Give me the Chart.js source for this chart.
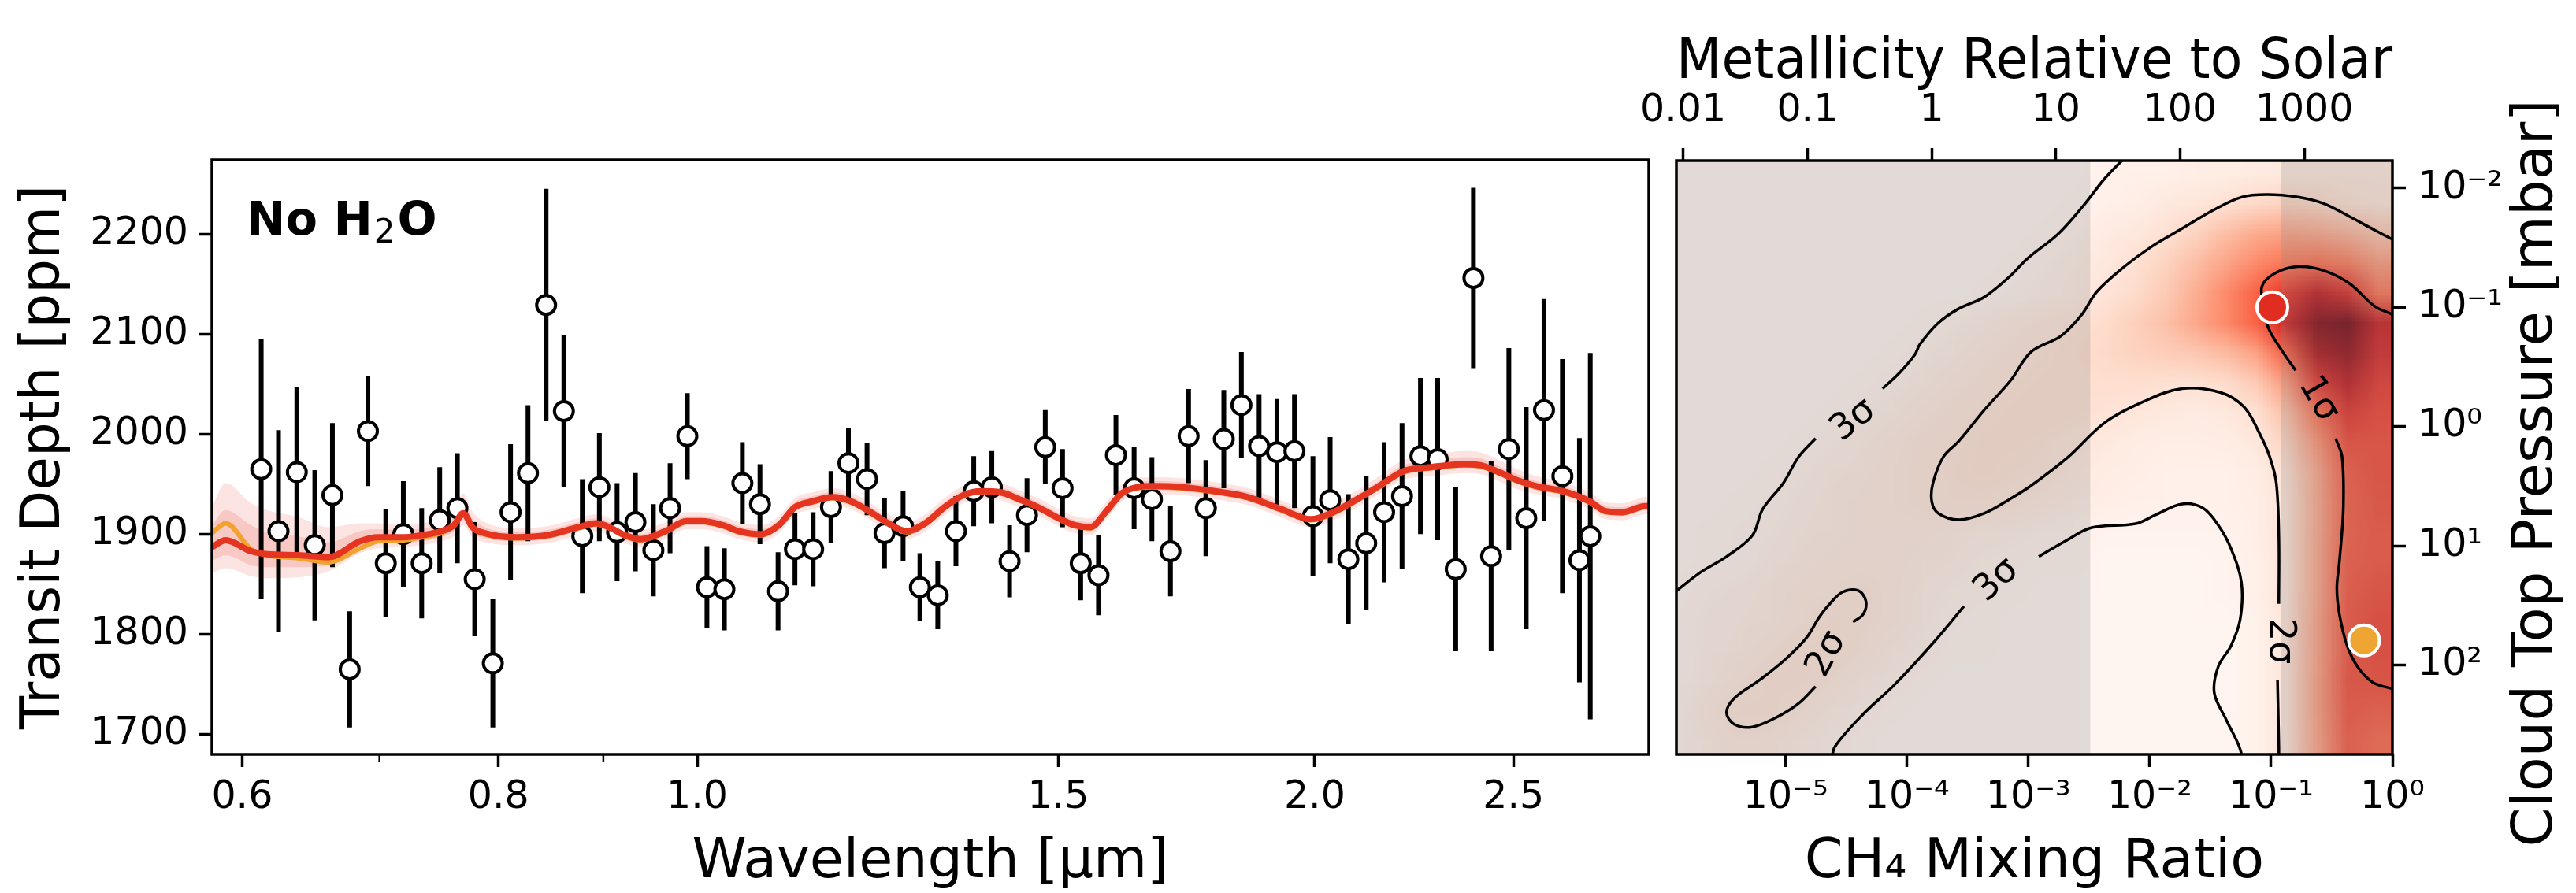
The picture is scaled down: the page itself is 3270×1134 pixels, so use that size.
<!DOCTYPE html>
<html>
<head>
<meta charset="utf-8">
<script src="https://cdn.jsdelivr.net/npm/chart.js@4.4.1/dist/chart.umd.min.js"></script>
<style>
  html, body { margin: 0; padding: 0; background: #fff; }
  #wrap { position: relative; width: 3270px; height: 1134px; overflow: hidden; background: #fff; }
  #spec { position: absolute; left: 0; top: 0; width: 2110px; height: 1134px; }
  #post { position: absolute; left: 2060px; top: 0; width: 1210px; height: 1134px; }
</style>
</head>
<body>
<div id="wrap">
  <canvas id="spec" width="2110" height="1134"></canvas>
  <canvas id="post" width="1210" height="1134"></canvas>
</div>
<script>
// ---------------- transmission spectrum ----------------
const dataWave = [0.613,0.625,0.638,0.651,0.664,0.677,0.691,0.705,0.719,0.734,
  0.749,0.764,0.779,0.795,0.811,0.827,0.844,0.861,0.879,0.896,
  0.914,0.933,0.952,0.970,0.989,1.011,1.031,1.052,1.073,1.095,
  1.116,1.139,1.162,1.185,1.210,1.234,1.260,1.284,1.310,1.337,
  1.364,1.392,1.420,1.448,1.478,1.507,1.538,1.569,1.600,1.633,
  1.666,1.701,1.736,1.770,1.806,1.842,1.879,1.917,1.955,1.996,
  2.035,2.077,2.119,2.162,2.206,2.252,2.296,2.343,2.390,2.438,
  2.487,2.536,2.587,2.641,2.692,2.725];
const dataDepth = [1965,1903,1962,1889,1939,1765,2003,1871,1900,1871,
  1914,1926,1855,1771,1922,1961,2129,2023,1898,1947,
  1902,1912,1884,1926,1998,1847,1845,1951,1930,1843,
  1885,1885,1927,1971,1955,1901,1908,1847,1839,1903,
  1943,1947,1873,1919,1987,1946,1871,1859,1979,1946,
  1935,1883,1998,1926,1995,2029,1988,1982,1983,1918,
  1934,1875,1891,1922,1938,1978,1975,1865,2156,1878,
  1985,1916,2024,1958,1874,1898];
const dataErr = [130,101,85,75,72,58,55,54,53,55,
  53,55,57,64,68,68,116,76,57,54,
  49,49,46,45,43,41,41,41,40,39,
  36,37,36,35,36,35,35,34,34,35,
  35,36,36,37,37,39,37,40,40,41,
  42,45,47,48,49,53,52,53,57,60,
  63,65,67,70,73,78,81,82,90,95,
  101,111,111,117,122,183];

const modelWave = [0.580,0.589,0.606,0.617,0.639,0.661,0.685,0.699,0.719,0.734,
  0.750,0.761,0.769,0.777,0.788,0.816,0.845,0.875,0.893,0.906,
  0.922,0.938,0.965,0.988,1.005,1.029,1.048,1.074,1.096,1.116,
  1.139,1.164,1.188,1.213,1.239,1.265,1.292,1.320,1.348,1.376,
  1.405,1.435,1.466,1.497,1.528,1.555,1.583,1.611,1.639,1.668,
  1.723,1.788,1.856,1.926,1.992,2.037,2.106,2.153,2.210,2.278,
  2.364,2.408,2.453,2.518,2.565,2.643,2.722,2.773,2.825,2.899,
  2.912];
const modelBest = [1887,1894,1883,1880,1879,1877,1893,1897,1897,1899,
  1903,1909,1921,1907,1901,1897,1899,1907,1911,1907,
  1899,1895,1903,1913,1913,1909,1903,1900,1909,1927,
  1933,1937,1933,1923,1911,1903,1911,1927,1939,1943,
  1942,1935,1927,1917,1909,1907,1923,1941,1947,1948,
  1947,1943,1937,1925,1915,1921,1937,1949,1963,1967,
  1970,1969,1963,1953,1948,1943,1933,1923,1922,1928,
  1928];
const modelAlt = [1901,1911,1885,1879,1876,1872,1886,1893,1894,1897,
  1901,1908,1921,1906,1900,1896,1898,1906,1910,1906,
  1898,1894,1902,1912,1912,1908,1902,1899,1908,1926,
  1932,1936,1932,1922,1910,1902,1910,1926,1938,1942,
  1941,1934,1926,1916,1908,1906,1922,1940,1946,1947,
  1946,1942,1936,1924,1914,1920,1936,1948,1962,1966,
  1969,1968,1962,1952,1947,1942,1932,1922,1921,1927,
  1927];
// spread of the model posterior around the best fit (ppm above / below)
const band2Up = [40,57,48,44,38,30,18,14,12,12, 13,15,20,16,11,9,9,9,9,9,
  9,9,9,9,9,9,9,9,9,9, 9,9,9,9,9,9,9,9,9,9, 9,9,9,9,9,9,9,9,9,9,
  9,9,9,9,9,9,9,10,11,12, 13,13,12,11,10,9,9,9,9,9, 9];
const band2Down = [26,28,25,24,22,14,12,11,10,10, 10,11,12,10,9,8,8,8,8,8,
  8,8,8,8,8,8,8,8,8,8, 8,8,8,8,8,8,8,8,8,8, 8,8,8,8,8,8,8,8,8,8,
  8,8,8,8,8,8,8,8,8,9, 9,9,9,9,8,8,8,8,8,8, 8];
const band1Up = [22,30,26,22,19,15,10,8,7,7, 7,8,11,9,6,5,5,5,5,5,
  5,5,5,5,5,5,5,5,5,5, 5,5,5,5,5,5,5,5,5,5, 5,5,5,5,5,5,5,5,5,5,
  5,5,5,5,5,5,5,5,6,6, 7,7,6,6,5,5,5,5,5,5, 5];
const band1Down = [14,15,14,13,12,8,7,6,6,6, 6,6,7,6,5,4,4,4,4,4,
  4,4,4,4,4,4,4,4,4,4, 4,4,4,4,4,4,4,4,4,4, 4,4,4,4,4,4,4,4,4,4,
  4,4,4,4,4,4,4,4,4,4, 4,4,4,4,4,4,4,4,4,4, 4];

const waveMajorTicks = [0.6, 0.8, 1.0, 1.5, 2.0, 2.5];
const waveMinorTicks = [0.7, 0.9];
const depthTicks = [1700, 1800, 1900, 2000, 2100, 2200];

// ---------------- CH4 / cloud-top posterior ----------------
const ch4Ticks = [-5, -4, -3, -2, -1, 0];
const metallicityTicks = [-2, -1, 0, 1, 2, 3];
const metallicityLabels = ['0.01', '0.1', '1', '10', '100', '1000'];
const pressureTicks = [-2, -1, 0, 1, 2];

// density grid: columns span log CH4 -6..0, rows span log P -2.25..2.75 (top to bottom)
const gridLogCH4 = [-6, 0];
const gridLogP = [-2.25, 2.75];
const density = [
  [0,0,0,0,0,0,0,0,0,0,0,0,0,0,2,3,3,4,5,6,7,8,8,8],
  [0,0,0,0,0,0,0,0,0,0,0,0,0,1,3,4,7,9,12,15,17,15,12,10],
  [0,0,0,0,0,0,0,0,0,0,0,0,1,3,6,8,12,17,24,30,33,32,28,22],
  [0,0,0,0,0,0,0,0,0,0,0,1,3,5,8,12,17,24,32,40,47,50,46,36],
  [0,0,0,0,0,0,0,0,0,0,1,2,4,6,10,14,20,29,40,52,66,80,70,48],
  [0,0,0,0,0,0,0,0,1,3,5,7,9,11,14,18,23,31,40,52,74,95,98,76],
  [0,0,0,0,0,0,0,1,3,5,7,9,11,13,15,17,19,21,25,33,54,86,92,72],
  [0,0,0,0,0,0,1,3,5,7,9,11,12,12,13,13,12,12,14,20,36,66,80,66],
  [0,0,0,0,0,1,3,5,7,9,11,12,13,12,11,9,7,6,8,12,24,50,68,62],
  [0,0,0,0,1,3,5,7,9,10,12,12,11,9,7,5,4,4,5,8,17,38,60,60],
  [0,0,0,1,3,5,6,8,9,11,12,11,10,7,5,4,3,3,3,5,12,32,56,60],
  [0,0,1,2,4,6,7,8,9,10,10,9,7,5,4,3,3,2,3,4,11,31,55,59],
  [0,1,2,3,5,6,7,7,7,6,5,4,3,2,1,1,1,1,1,4,11,31,55,58],
  [0,1,2,4,6,7,7,7,6,5,3,2,1,1,0,0,0,0,1,3,10,32,56,58],
  [1,3,4,6,7,8,9,7,5,3,2,1,0,0,0,0,0,0,1,3,10,32,57,60],
  [2,4,5,6,8,11,9,7,4,2,1,0,0,0,0,0,0,0,0,2,10,33,58,62],
  [2,4,6,8,11,11,8,5,3,1,1,0,0,0,0,0,0,0,0,2,10,33,58,62],
  [2,5,8,11,11,8,5,3,1,0,0,0,0,0,0,0,0,0,0,2,10,34,59,60],
  [3,7,11,11,8,5,3,1,0,0,0,0,0,0,0,0,0,0,0,2,10,34,58,56],
  [3,6,8,7,5,3,1,0,0,0,0,0,0,0,0,0,0,0,0,2,10,33,56,52]
];
// CH4 ranges shaded as disfavoured by the metallicity prior
const excludedCH4 = [[-6, -2.49], [-0.915, 0]];

// confidence contours as [log CH4, log P] vertices; null marks a label gap
const sigma1 = [[0.0,-0.94],[-0.149,-1.011],[-0.352,-1.198],[-0.564,-1.308],[-0.777,-1.341],[-0.968,-1.286],
  [-1.075,-1.176],[-1.06,-1.0],[-1.021,-0.824],[-0.904,-0.626],[-0.798,-0.472],null,
  [-0.468,0.100],[-0.415,0.254],[-0.405,0.694],[-0.437,1.134],[-0.458,1.355],[-0.437,1.574],
  [-0.373,1.838],[-0.287,2.015],[-0.160,2.147],[0.0,2.2]];
const sigma2Main = [[0.0,-1.57],[-0.149,-1.649],[-0.330,-1.748],[-0.564,-1.869],[-0.777,-1.924],[-1.032,-1.946],
  [-1.244,-1.924],[-1.478,-1.814],[-1.734,-1.660],[-1.989,-1.506],[-2.223,-1.330],[-2.435,-1.132],
  [-2.563,-0.934],[-2.733,-0.758],[-2.978,-0.626],[-3.148,-0.384],[-3.360,-0.142],[-3.573,0.122],
  [-3.700,0.254],[-3.786,0.474],[-3.796,0.628],[-3.743,0.727],[-3.573,0.782],[-3.360,0.727],
  [-3.148,0.606],[-2.978,0.496],[-2.670,0.254],[-2.372,-0.032],[-2.053,-0.208],[-1.734,-0.318],
  [-1.415,-0.285],[-1.223,-0.164],[-1.096,0.056],[-1.011,0.254],[-0.957,0.474],[-0.936,0.914],
  [-0.936,1.487],null,[-0.947,2.124],[-0.936,2.675],[-0.936,2.8]];
const sigma2Loop = [[-4.753,2.181],[-4.892,2.322],[-5.062,2.432],[-5.274,2.520],[-5.423,2.498],[-5.487,2.399],
  [-5.423,2.279],[-5.211,2.124],[-4.998,1.949],[-4.828,1.772],[-4.721,1.596],[-4.636,1.487],
  [-4.530,1.388],[-4.402,1.376],[-4.338,1.464],[-4.360,1.574],[-4.445,1.640]];
const sigma3Upper = [[-2.19,-2.27],[-2.372,-2.078],[-2.542,-1.858],[-2.754,-1.616],[-3.010,-1.407],[-3.148,-1.264],
  [-3.360,-1.088],[-3.573,-0.989],[-3.743,-0.868],[-3.892,-0.692],[-3.935,-0.604],[-4.062,-0.450],
  [-4.201,-0.318],null,[-4.753,0.100],[-4.892,0.254],[-5.019,0.474],[-5.189,0.694],[-5.274,0.914],
  [-5.487,1.091],[-5.700,1.222],[-5.95,1.42]];
const sigma3Lower = [[-4.62,2.8],[-4.594,2.685],[-4.360,2.411],[-4.105,2.168],[-3.786,1.817],[-3.531,1.508],null,
  [-2.914,1.091],[-2.691,0.958],[-2.478,0.848],[-2.116,0.815],[-1.946,0.738],[-1.734,0.650],
  [-1.563,0.683],[-1.436,0.826],[-1.330,1.024],[-1.244,1.310],[-1.255,1.619],[-1.330,1.838],
  [-1.436,2.015],[-1.468,2.234],[-1.372,2.454],[-1.266,2.675],[-1.23,2.8]];
const contourLabels = [
  { text: '1σ', ch4: -0.61, p: -0.23, angle: 60 },
  { text: '2σ', ch4: -0.93, p: 1.80, angle: 90 },
  { text: '2σ', ch4: -4.66, p: 1.91, angle: -62 },
  { text: '3σ', ch4: -4.44, p: -0.05, angle: -38 },
  { text: '3σ', ch4: -3.26, p: 1.29, angle: -42 }
];
const bestFitPoint = { ch4: -0.99, p: -1.0 };
const altFitPoint = { ch4: -0.234, p: 1.794 };

// ---------------- helpers ----------------
const FAMILY = "'DejaVu Sans', sans-serif";
Chart.defaults.font.family = FAMILY;
Chart.defaults.color = '#000';

const SUP = { '-': '\u207B', '0': '\u2070', '1': '\u00B9', '2': '\u00B2', '3': '\u00B3', '4': '\u2074', '5': '\u2075' };
const pow10 = v => '10' + String(v).split('').map(c => SUP[c]).join('');

const REDS = [[255,245,240],[254,224,210],[252,187,161],[252,146,114],[251,106,74],
              [239,59,44],[203,24,29],[165,15,21],[103,0,13]];
function reds(t) {
  t = Math.max(0, Math.min(1, t)) * 8;
  const i = Math.min(7, Math.floor(t)), f = t - i;
  return REDS[i].map((c, k) => Math.round(c + (REDS[i + 1][k] - c) * f));
}

const framePlugin = {
  id: 'frame',
  afterDatasetsDraw(chart) {
    const { ctx, chartArea: a } = chart;
    ctx.save();
    ctx.strokeStyle = '#000';
    ctx.lineWidth = 3.5;
    ctx.strokeRect(a.left, a.top, a.width, a.height);
    ctx.restore();
  }
};

// ---------------- left panel ----------------
const minorTickPlugin = {
  id: 'minorTicks',
  afterDraw(chart) {
    const { ctx, chartArea: a, scales: { x } } = chart;
    ctx.save();
    ctx.strokeStyle = '#000';
    ctx.lineWidth = 2.5;
    waveMinorTicks.forEach(v => {
      const px = x.getPixelForValue(v);
      ctx.beginPath(); ctx.moveTo(px, a.bottom); ctx.lineTo(px, a.bottom + 10); ctx.stroke();
    });
    ctx.restore();
  }
};

const panelTagPlugin = {
  id: 'panelTag',
  afterDraw(chart) {
    const { ctx, chartArea: a } = chart;
    let x = a.left + 44;
    const y = a.top + 95;
    ctx.save();
    ctx.fillStyle = '#000';
    ctx.textAlign = 'left';
    ctx.textBaseline = 'alphabetic';
    ctx.font = "bold 59px " + FAMILY;
    ctx.fillText('No H', x, y);
    x += ctx.measureText('No H').width + 2;
    ctx.font = "42px " + FAMILY;
    ctx.fillText('2', x, y + 10);
    x += ctx.measureText('2').width + 3;
    ctx.font = "bold 59px " + FAMILY;
    ctx.fillText('O', x, y);
    ctx.restore();
  }
};

const bandSet = (vals, sign, color, fill, order) => ({
  data: modelWave.map((w, i) => ({ x: w, y: modelBest[i] + sign * vals[i] })),
  fill: fill, backgroundColor: color, borderColor: 'transparent', borderWidth: 0,
  pointRadius: 0, cubicInterpolationMode: 'monotone', order: order
});

const errorBars = [];
dataWave.forEach((w, i) => {
  errorBars.push({ x: w, y: dataDepth[i] - dataErr[i] });
  errorBars.push({ x: w, y: dataDepth[i] + dataErr[i] });
  errorBars.push({ x: w, y: null });
});

new Chart(document.getElementById('spec'), {
  type: 'line',
  data: {
    datasets: [
      bandSet(band2Up, 1, 'rgba(236,120,112,0.20)', '+1', 12),
      bandSet(band2Down, -1, 'transparent', false, 12),
      bandSet(band1Up, 1, 'rgba(236,100,92,0.22)', '+1', 11),
      bandSet(band1Down, -1, 'transparent', false, 11),
      { data: errorBars, borderColor: '#000', borderWidth: 6, pointRadius: 0, spanGaps: false,
        tension: 0, order: 10 },
      { data: dataWave.map((w, i) => ({ x: w, y: dataDepth[i] })), showLine: false,
        pointStyle: 'circle', pointRadius: 12, pointBorderWidth: 4,
        pointBackgroundColor: '#fff', pointBorderColor: '#000', order: 9 },
      { data: modelWave.map((w, i) => ({ x: w, y: modelAlt[i] })), borderColor: '#f2a22e',
        borderWidth: 6, pointRadius: 0, cubicInterpolationMode: 'monotone', fill: false, order: 6 },
      { data: modelWave.map((w, i) => ({ x: w, y: modelBest[i] })), borderColor: '#e5341f',
        borderWidth: 8, pointRadius: 0, cubicInterpolationMode: 'monotone', fill: false, order: 5 }
    ]
  },
  options: {
    responsive: false, animation: false, events: [],
    layout: { padding: { left: 0, top: 203, right: 17, bottom: 0 } },
    plugins: { legend: { display: false }, tooltip: { enabled: false } },
    scales: {
      x: {
        type: 'logarithmic', position: 'bottom', min: 0.58, max: 2.91,
        afterBuildTicks: ax => { ax.ticks = waveMajorTicks.map(v => ({ value: v })); },
        afterFit: ax => { ax.height = 176; },
        ticks: { autoSkip: false, maxRotation: 0, minRotation: 0, padding: 10,
                 font: { size: 49 }, color: '#000', callback: v => Number(v).toFixed(1) },
        grid: { drawOnChartArea: false, drawTicks: true, tickLength: 16, tickWidth: 3.5, tickColor: '#000' },
        border: { display: false },
        title: { display: true, text: 'Wavelength [μm]', color: '#000',
                 font: { size: 70, lineHeight: 1.1 }, padding: { top: 0, bottom: 0 } }
      },
      y: {
        type: 'linear', position: 'left', min: 1680, max: 2274,
        afterBuildTicks: ax => { ax.ticks = depthTicks.map(v => ({ value: v })); },
        afterFit: ax => { ax.width = 269; },
        ticks: { padding: 14, font: { size: 49 }, color: '#000', callback: v => String(v) },
        grid: { drawOnChartArea: false, drawTicks: true, tickLength: 16, tickWidth: 3.5, tickColor: '#000' },
        border: { display: false },
        title: { display: true, text: 'Transit Depth [ppm]', color: '#000',
                 font: { size: 69, lineHeight: 1.2 }, padding: { top: 16, bottom: 0 } }
      }
    }
  },
  plugins: [framePlugin, minorTickPlugin, panelTagPlugin]
});

// ---------------- right panel ----------------
const heatmapPlugin = {
  id: 'heatmap',
  beforeDatasetsDraw(chart) {
    const { ctx, chartArea: a, scales: { x, y } } = chart;
    const rows = density.length, cols = density[0].length;
    const off = document.createElement('canvas');
    off.width = cols; off.height = rows;
    const octx = off.getContext('2d');
    const img = octx.createImageData(cols, rows);
    density.forEach((row, j) => row.forEach((v, i) => {
      const c = reds(v / 100), k = (j * cols + i) * 4;
      img.data[k] = c[0]; img.data[k + 1] = c[1]; img.data[k + 2] = c[2]; img.data[k + 3] = 255;
    }));
    octx.putImageData(img, 0, 0);
    const x0 = x.getPixelForValue(gridLogCH4[0]), x1 = x.getPixelForValue(gridLogCH4[1]);
    const y0 = y.getPixelForValue(gridLogP[0]), y1 = y.getPixelForValue(gridLogP[1]);
    ctx.save();
    ctx.beginPath(); ctx.rect(a.left, a.top, a.width, a.height); ctx.clip();
    ctx.imageSmoothingEnabled = true;
    ctx.drawImage(off, x0, y0, x1 - x0, y1 - y0);
    ctx.fillStyle = 'rgba(140,140,140,0.25)';
    excludedCH4.forEach(([lo, hi]) => {
      const p0 = x.getPixelForValue(lo), p1 = x.getPixelForValue(hi);
      ctx.fillRect(p0, a.top, p1 - p0, a.height);
    });
    ctx.restore();
  }
};

const contourLabelPlugin = {
  id: 'contourLabels',
  afterDatasetsDraw(chart) {
    const { ctx, scales: { x, y } } = chart;
    ctx.save();
    ctx.fillStyle = '#000';
    ctx.font = "46px " + FAMILY;
    ctx.textAlign = 'center';
    ctx.textBaseline = 'middle';
    contourLabels.forEach(l => {
      ctx.save();
      ctx.translate(x.getPixelForValue(l.ch4), y.getPixelForValue(l.p));
      ctx.rotate(l.angle * Math.PI / 180);
      ctx.fillText(l.text, 0, 0);
      ctx.restore();
    });
    ctx.restore();
  }
};

const sideTitlePlugin = {
  id: 'sideTitle',
  afterDraw(chart) {
    const { ctx, chartArea: a } = chart;
    ctx.save();
    ctx.fillStyle = '#000';
    ctx.font = "72px " + FAMILY;
    ctx.textAlign = 'center';
    ctx.textBaseline = 'middle';
    ctx.translate(chart.width - 50, (a.top + a.bottom) / 2 + 20);
    ctx.rotate(-Math.PI / 2);
    ctx.fillText('Cloud Top Pressure [mbar]', 0, 0);
    ctx.restore();
  }
};

const contourSet = pts => ({
  data: pts.map(p => p ? { x: p[0], y: p[1] } : { x: 0, y: null }),
  showLine: true, borderColor: '#000', borderWidth: 3.5, pointRadius: 0,
  tension: 0.35, spanGaps: false, fill: false, order: 5
});

new Chart(document.getElementById('post'), {
  type: 'scatter',
  data: {
    datasets: [
      contourSet(sigma3Upper), contourSet(sigma3Lower),
      contourSet(sigma2Main), contourSet(sigma2Loop), contourSet(sigma1),
      { data: [{ x: bestFitPoint.ch4, y: bestFitPoint.p }], pointRadius: 19.5, pointBorderWidth: 4,
        pointBackgroundColor: '#e12d21', pointBorderColor: '#fff', order: 1 },
      { data: [{ x: altFitPoint.ch4, y: altFitPoint.p }], pointRadius: 19.5, pointBorderWidth: 4,
        pointBackgroundColor: '#eea532', pointBorderColor: '#fff', order: 1 }
    ]
  },
  options: {
    responsive: false, animation: false, events: [],
    layout: { padding: { left: 68, top: 0, right: 0, bottom: 0 } },
    plugins: { legend: { display: false }, tooltip: { enabled: false } },
    scales: {
      x: {
        type: 'linear', position: 'bottom', min: -5.9, max: 0,
        afterBuildTicks: ax => { ax.ticks = ch4Ticks.map(v => ({ value: v })); },
        afterFit: ax => { ax.height = 176; },
        ticks: { autoSkip: false, maxRotation: 0, minRotation: 0, padding: 10,
                 font: { size: 49 }, color: '#000', callback: v => pow10(v) },
        grid: { drawOnChartArea: false, drawTicks: true, tickLength: 16, tickWidth: 3.5, tickColor: '#000' },
        border: { display: false },
        title: { display: true, text: 'CH₄ Mixing Ratio', color: '#000',
                 font: { size: 70, lineHeight: 1.1 }, padding: { top: 0, bottom: 0 } }
      },
      xTop: {
        type: 'linear', position: 'top', axis: 'x', min: -2.055, max: 3.71,
        afterBuildTicks: ax => { ax.ticks = metallicityTicks.map(v => ({ value: v })); },
        afterFit: ax => { ax.height = 204; },
        ticks: { autoSkip: false, maxRotation: 0, minRotation: 0, padding: 17,
                 font: { size: 49 }, color: '#000',
                 callback: v => metallicityLabels[metallicityTicks.indexOf(v)] },
        grid: { drawOnChartArea: false, drawTicks: true, tickLength: 16, tickWidth: 3.5, tickColor: '#000' },
        border: { display: false },
        title: { display: true, text: 'Metallicity Relative to Solar', color: '#000',
                 font: { size: 71, lineHeight: 1.2 }, padding: { top: 38, bottom: 0 } }
      },
      y: {
        type: 'linear', position: 'right', reverse: true, min: -2.23, max: 2.75,
        afterBuildTicks: ax => { ax.ticks = pressureTicks.map(v => ({ value: v })); },
        afterFit: ax => { ax.width = 233; },
        ticks: { padding: 15, font: { size: 49 }, color: '#000', callback: v => pow10(v) },
        grid: { drawOnChartArea: false, drawTicks: true, tickLength: 17, tickWidth: 3.5, tickColor: '#000' },
        border: { display: false }
      }
    }
  },
  plugins: [heatmapPlugin, framePlugin, contourLabelPlugin, sideTitlePlugin]
});
</script>
</body>
</html>
